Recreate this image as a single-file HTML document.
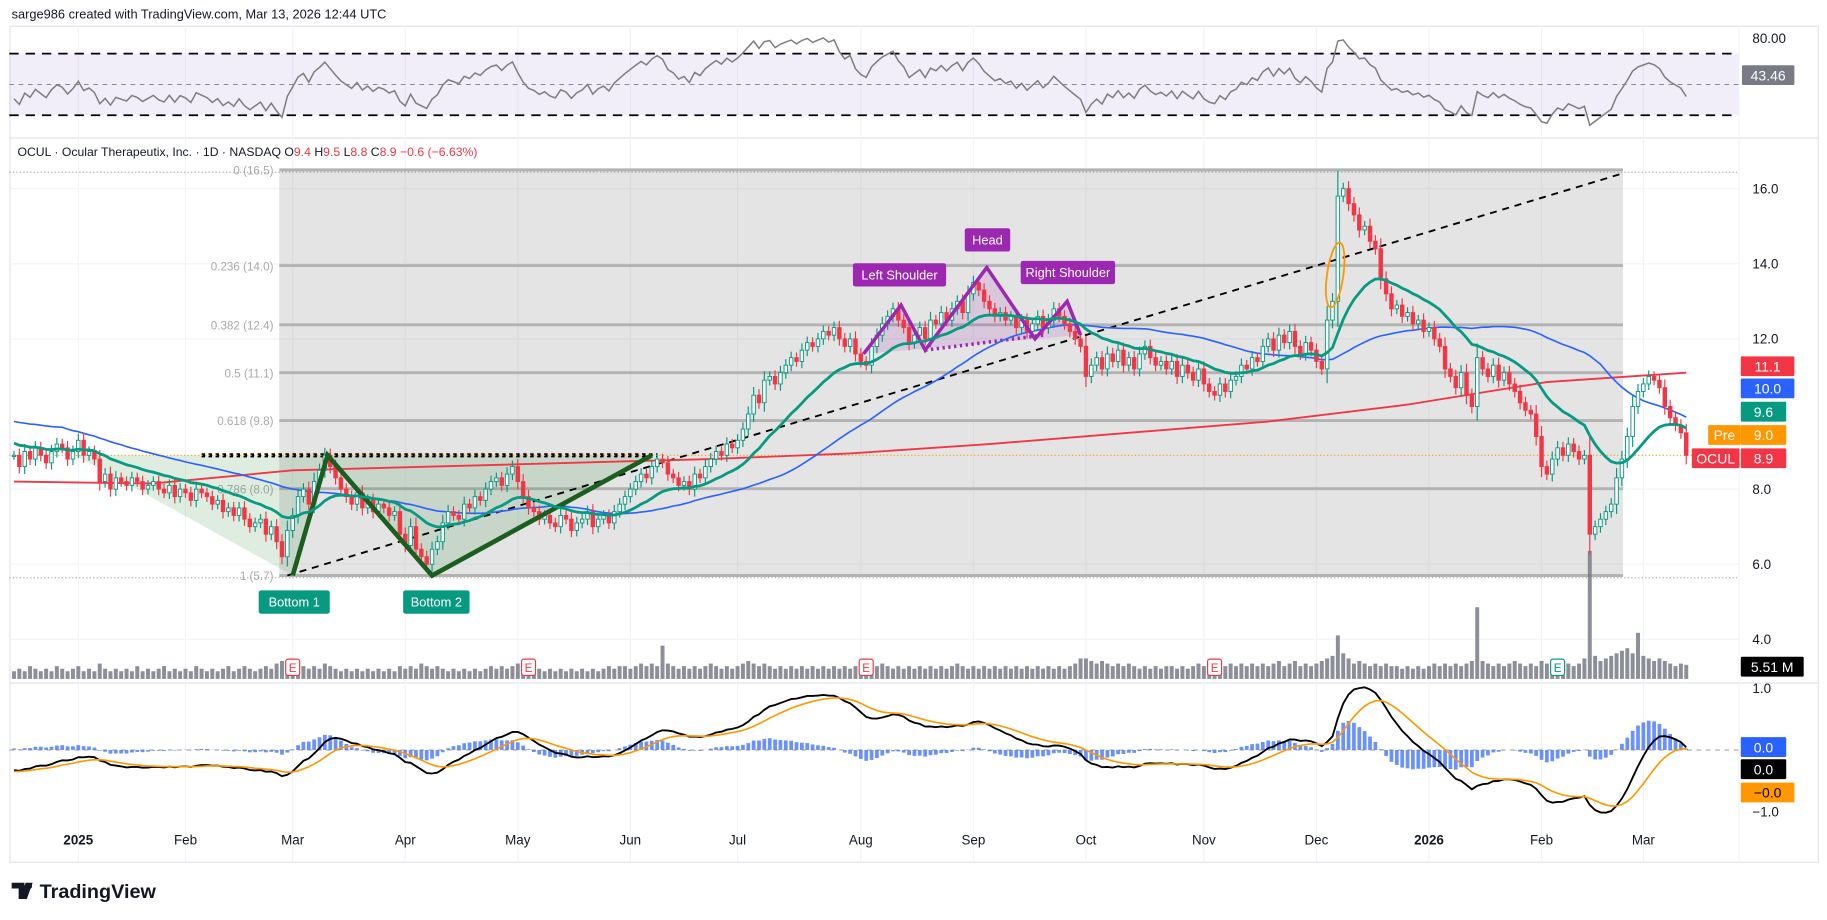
<!DOCTYPE html>
<html><head><meta charset="utf-8">
<style>
html,body{margin:0;padding:0;background:#fff;width:1827px;height:920px;overflow:hidden}
svg{display:block;font-family:"Liberation Sans",sans-serif}
</style></head>
<body>
<svg id="chart" width="1827" height="920" viewBox="0 0 1568 790" preserveAspectRatio="none" xmlns="http://www.w3.org/2000/svg">
<rect x="0" y="0" width="1568" height="790" fill="#fff"/>
<text x="10" y="16" font-size="11" fill="#131722">sarge986 created with TradingView.com, Mar 13, 2026 12:44 UTC</text>
<rect x="8.5" y="22.5" width="1552" height="718" fill="none" stroke="#e0e3eb"/>
<line x1="8" y1="118.5" x2="1561" y2="118.5" stroke="#e0e3eb"/>
<line x1="8" y1="586.5" x2="1561" y2="586.5" stroke="#e0e3eb"/>
<line x1="1492.5" y1="22" x2="1492.5" y2="741" stroke="#f0f3fa"/>
<g id="grid"></g>
<rect x="8" y="46" width="1484" height="53" fill="#7e57c2" fill-opacity="0.1"/>
<line x1="8" y1="46" x2="1492" y2="46" stroke="#000" stroke-width="1.5" stroke-dasharray="8,6"/>
<line x1="8" y1="99" x2="1492" y2="99" stroke="#000" stroke-width="1.5" stroke-dasharray="8,6"/>
<line x1="8" y1="72.5" x2="1492" y2="72.5" stroke="#787b86" stroke-width="0.7" stroke-dasharray="4,4"/>
<g id="fib"></g>
<g id="drawings"></g>
<g id="series"></g>
<g id="overlay"></g>
<g id="axes"></g>
<text x="15" y="134" font-size="10.5" fill="#131722">OCUL · Ocular Therapeutix, Inc. · 1D · NASDAQ <tspan fill="#131722">O</tspan><tspan fill="#f23645">9.4</tspan> <tspan fill="#131722">H</tspan><tspan fill="#f23645">9.5</tspan> <tspan fill="#131722">L</tspan><tspan fill="#f23645">8.8</tspan> <tspan fill="#131722">C</tspan><tspan fill="#f23645">8.9</tspan> <tspan fill="#f23645">−0.6 (−6.63%)</tspan></text>
<g>
<path d="M10 758h11v14h-5v-9h-6z M22 758 l6 0 l-5 14 h-6z" fill="#131722"/>
<circle cx="25" cy="761" r="2.5" fill="#131722"/>
<text x="34" y="771" font-size="17" font-weight="bold" fill="#131722">TradingView</text>
</g>
</svg>
<script>
const history = [11.2,11.0,10.8,11.1,10.9,10.6,10.8,10.5,10.7,10.4,10.2,10.5,10.3,10.0,10.2,9.9,10.1,9.8,9.6,9.9,9.7,9.5,9.8,9.4,9.6,9.3,9.5,9.2,9.4,9.0,9.3,9.1,8.9,9.2,9.0,8.8,9.1,8.9,9.0,8.8];
const closes = [8.9,8.6,9.0,8.8,9.1,8.9,8.7,9.0,9.2,9.1,8.8,9.0,9.3,8.9,9.0,8.8,
8.2,8.4,8.0,8.3,8.2,8.1,8.3,8.2,8.0,8.1,8.2,8.0,7.9,8.1,7.8,8.0,7.9,7.7,8.0,7.9,7.8,
7.6,7.7,7.4,7.5,7.3,7.5,7.2,7.0,7.1,7.2,6.8,7.0,6.6,
6.2,6.9,7.3,7.8,8.0,7.6,8.2,8.5,8.9,8.6,
8.3,8.0,7.8,7.6,7.9,7.5,7.7,7.4,7.6,7.5,7.3,7.4,
6.8,6.5,7.0,6.4,6.2,6.0,6.4,6.6,
7.1,7.4,7.3,7.2,7.6,7.5,7.8,7.7,8.0,8.2,
8.3,8.1,8.4,8.6,8.2,7.8,
7.5,7.4,7.2,7.3,7.1,7.0,7.3,7.2,6.9,7.1,7.2,7.4,7.0,7.2,7.3,7.1,7.4,7.6,
7.8,8.0,8.2,8.4,8.3,8.6,8.8,8.7,
8.4,8.3,8.1,8.2,8.0,8.4,8.3,8.6,8.8,
9.0,8.9,9.2,9.1,9.3,9.6,
10.0,10.5,10.3,10.9,11.0,10.8,11.1,
11.3,11.5,11.4,11.7,11.9,11.8,12.0,12.2,12.1,12.3,12.0,
11.8,12.0,11.6,11.4,11.3,
11.8,12.1,12.4,12.6,12.8,12.5,12.3,
11.9,12.1,12.3,12.0,12.5,12.4,12.7,12.5,12.8,13.0,12.7,13.2,13.5,13.3,
13.0,12.8,12.6,12.7,12.5,12.6,12.3,12.5,12.2,
12.4,12.6,12.3,12.5,12.8,12.6,12.4,12.2,12.0,11.8,
11.0,11.3,11.5,11.2,11.6,11.4,11.7,11.3,11.5,11.2,11.6,11.8,11.5,11.3,11.4,11.2,
11.4,11.0,11.3,11.1,10.9,11.2,10.8,10.6,
10.5,10.8,10.6,10.9,11.0,
11.3,11.2,11.5,11.4,11.8,12.0,11.7,12.1,
11.9,12.2,11.8,11.6,11.9,11.7,11.4,11.2,
12.5,13.0,15.8,
16.0,15.6,15.3,14.9,15.0,14.6,
14.4,13.6,13.2,12.8,
12.9,12.6,12.7,12.4,12.5,12.2,12.3,12.0,11.8,11.2,
11.0,10.7,11.1,10.5,10.2,11.5,
11.2,11.0,11.3,10.9,11.1,10.8,10.6,
10.3,10.1,10.0,9.4,8.6,8.4,
8.8,9.1,8.9,9.2,9.0,8.8,8.9,6.8,
7.0,7.2,7.4,7.6,8.3,8.8,
9.4,10.2,10.6,10.8,11.0,10.9,10.7,
10.2,9.9,9.7,9.5,8.9];
const volumes = [3,4,3,5,4,3,4,3,5,4,3,4,5,3,4,3,
6,4,3,4,3,4,3,5,3,4,3,4,5,3,4,3,4,3,5,4,3,
4,3,4,5,3,4,5,4,3,4,5,4,6,
7,6,5,6,5,4,5,4,6,5,
4,3,4,3,4,3,4,3,4,3,4,3,
5,4,5,4,6,5,4,5,
4,3,4,3,4,3,4,3,4,5,
4,5,4,5,6,4,
4,3,4,3,4,3,4,3,4,3,4,3,4,3,4,5,4,5,
5,4,5,6,5,6,5,13,
6,5,4,5,4,5,4,5,6,
5,4,5,4,5,6,
7,6,5,6,5,4,5,
4,5,4,5,4,5,4,5,4,5,4,
5,4,5,4,5,
6,5,6,5,4,5,4,
5,4,5,4,5,4,5,4,5,6,5,4,5,4,
5,4,5,4,5,4,5,4,5,
4,5,4,5,4,5,4,5,6,8,
8,7,6,7,6,5,6,5,6,5,4,5,4,5,4,5,
5,4,5,4,5,6,5,6,
5,6,5,6,5,
6,5,6,5,6,5,6,7,
5,6,7,5,6,5,6,7,
8,9,17,
10,8,6,7,6,5,
6,5,6,5,
5,4,5,4,5,4,5,6,5,6,
5,6,5,6,7,28,
7,6,5,6,5,6,7,
6,5,6,5,7,6,
5,6,5,6,5,6,8,50,
9,7,8,9,10,11,
12,10,18,9,8,7,8,
7,6,5,6,5.5];
const redMAIndex = [0,26,52,78,104,130,156,182,208,234,260,286,312];
const redMAValues = [8.2,8.15,8.5,8.6,8.7,8.8,8.95,9.2,9.5,9.8,10.25,10.85,11.1];
const monthLabels = ["2025","Feb","Mar","Apr","May","Jun","Jul","Aug","Sep","Oct","Nov","Dec","2026","Feb","Mar"];
const monthIndex = [12,32,52,73,94,115,135,158,179,200,222,243,264,285,304];
const priceTicks = [16,14,12,8,6,4];
const earningsIndex = [52,96,159,224,288];
const fibRatios = [0,0.236,0.382,0.5,0.618,0.786,1];
const fibHigh = 16.5, fibLow = 5.7;

const NS="http://www.w3.org/2000/svg";
const X=i=>12+i*4.6;
const Yp=p=>162+(16-p)*32.25;
const Yr=r=>72.5-(r-50)*1.325;
const Ym=v=>644-53*v;
const Yv=v=>583-v*2.2;
function mk(parent,tag,attrs){const e=document.createElementNS(NS,tag);for(const k in attrs)e.setAttribute(k,attrs[k]);document.getElementById(parent).appendChild(e);return e;}

const all=history.concat(closes), off=history.length;
function ema(arr,n){const k=2/(n+1);const out=[];let e=arr[0];arr.forEach((v,i)=>{e=i?v*k+e*(1-k):v;out.push(e);});return out;}
const ema20=ema(all,20);
const sma50=all.map((v,i)=>{const s=all.slice(Math.max(0,i-49),i+1);return s.reduce((a,b)=>a+b,0)/s.length;});
const e12=ema(all,12),e26=ema(all,26);
const macd=all.map((v,i)=>e12[i]-e26[i]);
const sig=ema(macd,9);
let ag=0,al=0;const rsi=[50];
for(let i=1;i<all.length;i++){const d=all[i]-all[i-1];const g=Math.max(d,0),l=Math.max(-d,0);
 if(i<=14){ag+=g/14;al+=l/14;}else{ag=(ag*13+g)/14;al=(al*13+l)/14;}
 rsi.push(al===0?100:100-100/(1+ag/al));}

monthIndex.forEach((mi,k)=>{
 const g=mk('grid','line',{x1:X(mi),x2:X(mi),y1:22,y2:740,stroke:'#f0f3fa','stroke-width':1});
 
 
 const t=mk('axes','text',{x:X(mi),y:725,'font-size':11.5,'text-anchor':'middle',fill:'#131722','font-weight':(monthLabels[k].length===4?'bold':'normal')});
 t.textContent=monthLabels[k];
 
 
});
priceTicks.forEach(p=>{
 const g=mk('grid','line',{x1:8,x2:1492,y1:Yp(p),y2:Yp(p),stroke:'#f0f3fa'});
 
 
 const t=mk('axes','text',{x:1504,y:Yp(p)+4,'font-size':11.5,fill:'#131722'});
 t.textContent=p.toFixed(1);
 
 
});
[[80,'80.00',Yr(80)]].forEach(a=>{const t=mk('axes','text',{x:1504,y:a[2]+4,'font-size':11.5,fill:'#131722'});t.textContent=a[1];
 
 });
[[1,'1.0'],[-1,'−1.0']].forEach(a=>{const t=mk('axes','text',{x:1504,y:Ym(a[0])+4,'font-size':11.5,fill:'#131722'});t.textContent=a[1];
 
 });

const fx1=X(49.5),fx2=X(300.2);
const fb=mk('fib','rect',{x:fx1,y:Yp(fibHigh),width:fx2-fx1,height:Yp(fibLow)-Yp(fibHigh),fill:'#9e9e9e','fill-opacity':0.28});


fibRatios.forEach(r=>{const p=fibHigh-r*(fibHigh-fibLow);const y=Yp(p);
 const l=mk('fib','line',{x1:fx1,x2:fx2,y1:y,y2:y,stroke:'#b2b2b2','stroke-width':2.5});
 
 
 const t=mk('fib','text',{x:fx1-5,y:y+4,'font-size':10,fill:'#aaaaaa','text-anchor':'end'});
 t.textContent=r+' ('+p.toFixed(1)+')';
 
 });
[fibHigh,fibLow].forEach(p=>{const l=mk('fib','line',{x1:8,x2:1492,y1:Yp(p)+2,y2:Yp(p)+2,stroke:'#888','stroke-width':0.8,'stroke-dasharray':'1,2'});
 
 });

const wPts=[[11.5,8.9],[52,5.7],[58.5,8.9],[78,5.7],[119,8.9]];
const wp=mk('drawings','polygon',{points:wPts.map(p=>X(p[0])+','+Yp(p[1])).join(' '),fill:'#388e3c','fill-opacity':0.16});


const dl=mk('drawings','line',{x1:X(35),x2:X(120),y1:Yp(8.9),y2:Yp(8.9),stroke:'#000','stroke-width':3.5,'stroke-dasharray':'3,3'});


const ol=mk('drawings','line',{x1:8,x2:1492,y1:Yp(8.9),y2:Yp(8.9),stroke:'#ff9800','stroke-width':1,'stroke-dasharray':'1,2'});


const tl=mk('drawings','line',{x1:X(51),y1:Yp(5.7),x2:X(300),y2:Yp(16.4),stroke:'#000','stroke-width':1.6,'stroke-dasharray':'6,5'});


const hsPts=[[158.5,11.6],[165.5,12.9],[170,11.7],[181.5,13.9],[190.5,12.0],[196.5,13.0],[199,12.1]];
const hf=mk('drawings','polygon',{points:hsPts.map(p=>X(p[0])+','+Yp(p[1])).join(' '),fill:'#9c27b0','fill-opacity':0.15});


const nk=mk('drawings','line',{x1:X(170),y1:Yp(11.7),x2:X(192),y2:Yp(12.1),stroke:'#9c27b0','stroke-width':3,'stroke-dasharray':'2,3'});



function pathFrom(vals,fy,start){return vals.map((v,i)=>(i?'L':'M')+X(i+start).toFixed(1)+' '+fy(v).toFixed(1)).join('');}
const red=mk('series','path',{d:redMAIndex.map((ix,k)=>(k?'L':'M')+X(ix)+' '+Yp(redMAValues[k])).join(''),stroke:'#f23645','stroke-width':1.6,fill:'none'});


const blue=mk('series','path',{d:pathFrom(sma50.slice(off),Yp,0),stroke:'#2962ff','stroke-width':1.4,fill:'none'});



volumes.forEach((v,i)=>{
 const b=mk('series','rect',{x:X(i)-1.7,y:Yv(v),width:3.4,height:583-Yv(v),fill:'#787b86','fill-opacity':0.85});
 
 });

closes.forEach((c,i)=>{const o=i?closes[i-1]:c;const up=c>=o;const hi=Math.max(o,c)+0.12+Math.abs(c-o)*0.2;const lo=Math.min(o,c)-0.12-Math.abs(c-o)*0.2;
 const col=up?'#089981':'#f23645';
 const w=mk('series','line',{x1:X(i),x2:X(i),y1:Yp(hi),y2:Yp(lo),stroke:col,'stroke-width':1});
 
 
 const b=mk('series','rect',{x:X(i)-1.5,y:Yp(Math.max(o,c)),width:3,height:Math.max(1,Math.abs(Yp(o)-Yp(c))),fill:up?'#fff':col,stroke:col,'stroke-width':0.8});
 
 });

const wl=mk('series','polyline',{points:wPts.slice(1).map(p=>X(p[0])+','+Yp(p[1])).join(' '),stroke:'#1b5e20','stroke-width':4,fill:'none','stroke-linejoin':'miter'});


const hl=mk('series','polyline',{points:hsPts.map(p=>X(p[0])+','+Yp(p[1])).join(' '),stroke:'#9c27b0','stroke-width':3,fill:'none'});


const teal=mk('series','path',{d:pathFrom(ema20.slice(off),Yp,0),stroke:'#089981','stroke-width':2.4,fill:'none'});


const ell=mk('series','ellipse',{cx:X(246.5),cy:Yp(13.7),rx:7,ry:28,fill:'none',stroke:'#ff9800','stroke-width':1.6,transform:'rotate(8 '+X(246.5)+' '+Yp(13.7)+')'});



const rl=mk('series','path',{d:pathFrom(rsi.slice(off),Yr,0),stroke:'#7e7e7e','stroke-width':1.3,fill:'none'});



const hist=macd.map((m,i)=>m-sig[i]).slice(off);
hist.forEach((h,i)=>{const r=mk('series','rect',{x:X(i)-1.6,y:Math.min(Ym(0),Ym(h)),width:3.2,height:Math.abs(Ym(h)-Ym(0)),fill:'#2962ff','fill-opacity':0.7});
 
 });
const zl=mk('series','line',{x1:8,x2:1492,y1:Ym(0),y2:Ym(0),stroke:'#787b86','stroke-width':0.7,'stroke-dasharray':'4,4'});


const ml=mk('series','path',{d:pathFrom(macd.slice(off),Ym,0),stroke:'#000','stroke-width':1.6,fill:'none'});


const sl=mk('series','path',{d:pathFrom(sig.slice(off),Ym,0),stroke:'#ff9800','stroke-width':1.4,fill:'none'});



earningsIndex.forEach((ix,k)=>{const last=k===earningsIndex.length-1;const col=last?'#089981':'#f23645';
 const r=mk('overlay','rect',{x:X(ix)-6,y:566,width:12,height:14,rx:2,fill:'#fff',stroke:col,'stroke-width':1});
 
 
 const t=mk('overlay','text',{x:X(ix),y:577,'font-size':10,fill:col,'text-anchor':'middle'});t.textContent='E';
 
 });

function tag(x,y,w,h,txt,bg,name){const r=mk('overlay','rect',{x:x,y:y,width:w,height:h,rx:2,fill:bg});
 
 
 const t=mk('overlay','text',{x:x+w/2,y:y+h/2+4,'font-size':11,fill:'#fff','text-anchor':'middle'});t.textContent=txt;
 
 }
tag(222,507,61,20,'Bottom 1','#089981','bottom-1-label');
tag(346,507,57,20,'Bottom 2','#089981','bottom-2-label');
tag(732,226,80,20,'Left Shoulder','#9c27b0','left-shoulder-label');
tag(828,196,39,20,'Head','#9c27b0','head-label');
tag(876,224,81,20,'Right Shoulder','#9c27b0','right-shoulder-label');

function axl(x,y,w,txt,bg,name,fg){const r=mk('overlay','rect',{x:x,y:y,width:w,height:17,rx:1,fill:bg});
 
 
 const t=mk('overlay','text',{x:x+w/2,y:y+13,'font-size':12,fill:fg||'#fff','text-anchor':'middle'});t.textContent=txt;
 
 }
axl(1495,56,45,'43.46','#787b86','rsi-value-label');
axl(1494,306,46,'11.1','#f23645','sma200-value-label');
axl(1494,325,46,'10.0','#2962ff','sma50-value-label');
axl(1494,345,39,'9.6','#089981','ema20-value-label');
axl(1466,365,28,'Pre','#ff9800','pre-tag');
axl(1494,365,39,'9.0','#ff9800','pre-price-label');
axl(1452,385,41,'OCUL','#f23645','ticker-tag');
axl(1494,385,39,'8.9','#f23645','last-price-label');
axl(1494,564,54,'5.51 M','#000','volume-value-label');
axl(1494,633,39,'0.0','#2962ff','macd-hist-value-label');
axl(1494,652,39,'0.0','#000','macd-value-label');
axl(1494,672,46,'−0.0','#ff9800','macd-signal-value-label','#000');
</script>
</body></html>
